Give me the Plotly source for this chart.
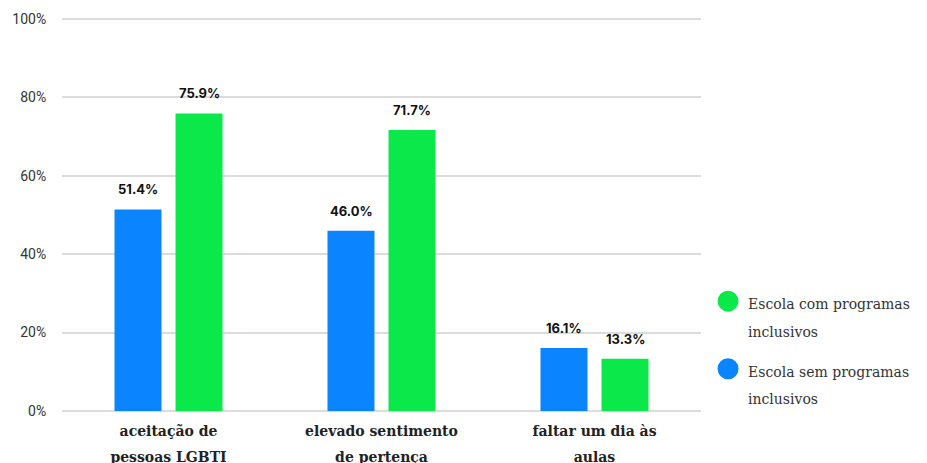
import plotly.graph_objects as go

categories = ["aceitação de|pessoas LGBTI", "elevado sentimento|de pertença", "faltar um dia às|aulas"]
sem_programas = [51.4, 46.0, 16.1]
com_programas = [75.9, 71.7, 13.3]
series_names = ["Escola sem programas|inclusivos", "Escola com programas|inclusivos"]
tick_vals = [0, 20, 40, 60, 80, 100]
tick_text = ["0%", "20%", "40%", "60%", "80%", "100%"]

blue = "#0a84ff"
green = "#0be84a"


def styled(label, size, bold=False):
    parts = label.split("|")
    out = []
    for p in parts:
        t = f"<b>{p}</b>" if bold else p
        out.append(f"<span style='font-size:{size}px'>{t}</span>")
    return "<br>".join(out)


fig = go.Figure()
for vals, color in [(sem_programas, blue), (com_programas, green)]:
    fig.add_trace(go.Bar(
        x=categories, y=vals, marker=dict(color=color, line=dict(width=0)),
        showlegend=False, hoverinfo="skip",
    ))

# data labels above bars
for vals, shift in [(sem_programas, -30.5), (com_programas, 30.5)]:
    for c, v in zip(categories, vals):
        fig.add_annotation(
            x=c, y=v, text=f"<b>{v:.1f}%</b>", showarrow=False,
            xshift=shift, yshift=10, yanchor="bottom",
            font=dict(family="Inter", size=13, color="#111"),
        )

# legend entries: green ("com") first, then blue ("sem")
for i, (name, color) in enumerate([(series_names[1], green), (series_names[0], blue)]):
    fig.add_trace(go.Scatter(
        x=[None], y=[None], mode="markers", name=styled(name, 14),
        legendgroup=f"g{i}",
        marker=dict(symbol="circle", size=16, color=color,
                    line=dict(color=color, width=5)),
    ))

fig.update_layout(
    width=927, height=463,
    margin=dict(l=62, r=220, t=17, b=52),
    paper_bgcolor="white", plot_bgcolor="white",
    barmode="group", bargap=0.427, bargroupgap=0.23,
    legend=dict(
        x=1.011, y=0.33, xanchor="left", yanchor="top",
        traceorder="grouped", valign="top",
        font=dict(family="DejaVu Serif", size=21, color="#333"),
        itemsizing="trace", tracegroupgap=10,
    ),
    xaxis=dict(
        automargin=False,
        tickfont=dict(family="DejaVu Serif", size=20, color="#222"),
        showgrid=False, ticks="", showline=False, ticklabelstandoff=4,
        tickvals=categories, ticktext=[styled(c, 14, bold=True) for c in categories],
    ),
    yaxis=dict(
        automargin=False,
        range=[0, 100.5], tickvals=tick_vals, ticktext=tick_text,
        showgrid=True, gridcolor="#dcdcdc", gridwidth=2,
        zeroline=True, zerolinecolor="#dcdcdc", zerolinewidth=2,
        tickfont=dict(family="Roboto", size=14, color="#333"),
        ticks="outside", ticklen=12, tickcolor="rgba(0,0,0,0)",
        showline=False,
    ),
)

fig.write_html("out.html", config={"displayModeBar": False},
               post_script="document.body.style.margin='0';")
